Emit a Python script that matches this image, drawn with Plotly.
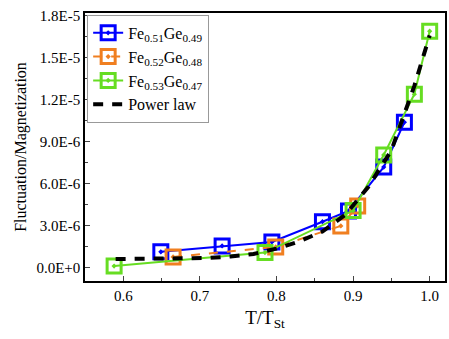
import plotly.graph_objects as go

# Data (values in units of 1e-6, scaled below)
x_51 = [0.649, 0.729, 0.794, 0.860, 0.894, 0.940, 0.967]
y_51 = [1.15, 1.57, 1.86, 3.30, 4.07, 7.20, 10.4]

x_52 = [0.665, 0.799, 0.884, 0.906]
y_52 = [0.79, 1.50, 3.00, 4.43]

x_53 = [0.588, 0.785, 0.900, 0.940, 0.980, 1.000]
y_53 = [0.14, 1.10, 4.10, 8.07, 12.4, 16.9]

x_pow = [0.59, 0.62, 0.65, 0.68, 0.71, 0.74, 0.77, 0.80, 0.83, 0.86, 0.89, 0.92, 0.95, 0.98, 1.0]
y_pow = [0.64, 0.64, 0.65, 0.68, 0.71, 0.82, 1.00, 1.38, 1.90, 2.60, 3.80, 5.80, 8.40, 13.0, 16.6]

y_tickvals = [0, 3, 6, 9, 12, 15, 18]
y_ticktext = ["0.0E+0", "3.0E-6", "6.0E-6", "9.0E-6", "1.2E-5", "1.5E-5", "1.8E-5"]
x_tickvals = [0.6, 0.7, 0.8, 0.9, 1.0]
x_ticktext = ["0.6", "0.7", "0.8", "0.9", "1.0"]

scale = 1e-6
FONT = "Liberation Serif, Times New Roman, DejaVu Serif, serif"

fig = go.Figure()

def series(x, y, name, color, dash):
    fig.add_trace(go.Scatter(
        x=x, y=[v * scale for v in y], name=name, mode="lines+markers",
        line=dict(color=color, width=2, dash=dash),
        marker=dict(symbol="square-open-dot", size=14, color=color,
                    line=dict(color=color, width=3)),
    ))

series(x_51, y_51, "Fe<sub>0.51</sub>Ge<sub>0.49</sub>", "#0000ff", "solid")
series(x_52, y_52, "Fe<sub>0.52</sub>Ge<sub>0.48</sub>", "#f07f20", "dash")
series(x_53, y_53, "Fe<sub>0.53</sub>Ge<sub>0.47</sub>", "#66dd22", "solid")

fig.add_trace(go.Scatter(
    x=x_pow, y=[v * scale for v in y_pow], name="Power law", mode="lines",
    line=dict(color="black", width=4, dash="10px,9px"),
))

fig.update_layout(
    width=449, height=339,
    margin=dict(l=85, r=2, t=13, b=58),
    paper_bgcolor="white", plot_bgcolor="white",
    font=dict(family=FONT, size=14, color="black"),
    showlegend=True,
    legend=dict(x=0.006, y=0.993, xanchor="left", yanchor="top",
                bgcolor="white", bordercolor="#999999", borderwidth=1,
                font=dict(family=FONT, size=16), tracegroupgap=0,
                itemwidth=30),
)

fig.update_xaxes(
    range=[0.55, 1.02], tickvals=x_tickvals, ticktext=x_ticktext,
    showgrid=False, zeroline=False, showline=True, mirror=True,
    linecolor="black", linewidth=1.5, ticks="inside", ticklen=5,
    minor=dict(ticks="inside", ticklen=3, dtick=0.05, tick0=0.55),
    title=dict(text="T/T<sub>St</sub>", font=dict(family=FONT, size=19), standoff=8),
    tickfont=dict(family=FONT, size=15),
)
fig.update_yaxes(
    range=[-0.93e-6, 1.82e-5], tickvals=[v * scale for v in y_tickvals], ticktext=y_ticktext,
    showgrid=False, zeroline=False, showline=True, mirror=True,
    linecolor="black", linewidth=1.5, ticks="inside", ticklen=5,
    minor=dict(ticks="inside", ticklen=3, dtick=1.5e-6, tick0=0),
    title=dict(text="Fluctuation/Magnetization", font=dict(family=FONT, size=16), standoff=6),
    tickfont=dict(family=FONT, size=15),
)

fig.write_html("out.html")
